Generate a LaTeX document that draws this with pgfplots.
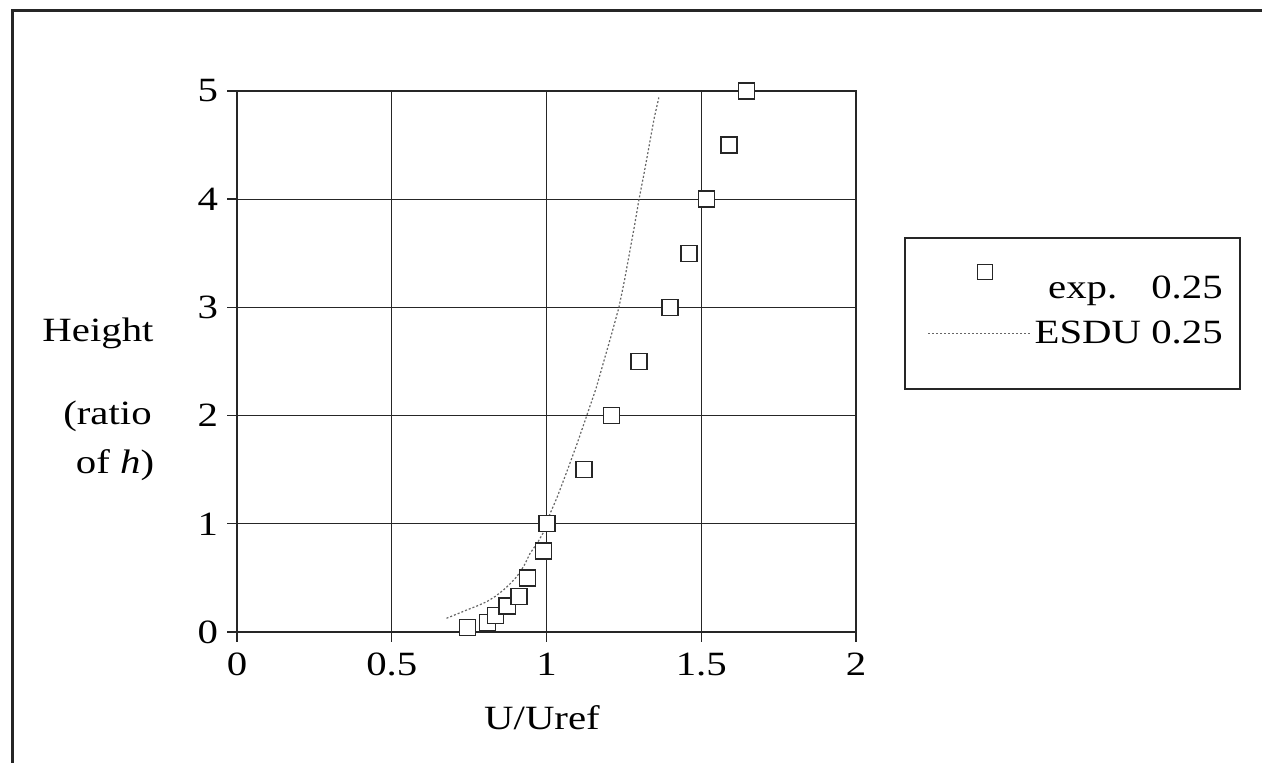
\documentclass[border=0pt]{standalone}
\usepackage{pgfplots}
\pgfplotsset{compat=1.18}
\usepackage{fontspec}
\setmainfont{Liberation Serif}[FakeStretch=1.2]
\newcommand\f{\fontsize{17}{20}\selectfont}
\begin{document}
\begin{tikzpicture}
\useasboundingbox (0,0) rectangle (631pt,381.5pt);
\fill[white] (0,0) rectangle (631pt,381.5pt);
\draw[line width=1.5pt, black!85] (6pt,-20pt) -- (6pt,376pt) -- (650pt,376pt);
\draw[line width=0.6pt, black!85] (452.5pt,262.5pt) rectangle (620pt,187pt);
\begin{axis}[
  at={(118.5pt,65.5pt)}, anchor=south west,
  scale only axis, width=309.5pt, height=270.5pt,
  xmin=0, xmax=2, ymin=0, ymax=5,
  xtick={0,0.5,1,1.5,2}, ytick={0,1,2,3,4,5},
  tick pos=left,
  grid=major,
  major grid style={black!85, line width=0.6pt},
  axis line style={black!85, line width=0.7pt},
  tick style={black!85, line width=0.7pt},
  tick align=outside, major tick length=5pt,
  ticklabel style={font=\f},
  /pgf/number format/assume math mode=true,
  xticklabel style={yshift=-2pt},
  yticklabel style={xshift=-1pt},
  clip=false,
  legend style={at={(1.105,0.5933)}, anchor=west, draw=none, fill=none, font=\f,
    row sep=6pt},
  legend cell align=right,
]
\addplot[only marks, mark=square*, mark size=4pt,
  mark options={fill=white, draw=black!85, line width=0.7pt},
  legend image code/.code={
    \path[draw=none] (0pt,0pt) rectangle (51pt,0.1pt);
    \draw[overlay, mark=square*, mark size=3.7pt, mark options={fill=white, draw=black!85, line width=0.6pt}]
      plot coordinates {(28.5pt,8pt)};
  }] coordinates {
(0.745,0.04) (0.81,0.09) (0.836,0.15) (0.873,0.24) (0.911,0.33) (0.938,0.5)
(0.991,0.75) (1.002,1.0) (1.121,1.5) (1.21,2.0) (1.299,2.5) (1.399,3.0)
(1.46,3.5) (1.516,4.0) (1.59,4.5) (1.647,5.0)
};
\addlegendentry{exp.\hspace{17pt}0.25}
\addplot[black!60, line width=0.6pt, dash pattern=on 1pt off 1pt,
  legend image code/.code={
    \draw[black!60, line width=0.6pt, dash pattern=on 1pt off 1pt] (0pt,0pt) -- (51pt,0pt);
  }] coordinates {
(0.677,0.127) (0.71,0.165) (0.742,0.203) (0.775,0.24) (0.807,0.28) (0.835,0.33)
(0.861,0.388) (0.884,0.45) (0.904,0.511) (0.927,0.61) (0.947,0.727) (0.972,0.83)
(0.99,0.92) (1.005,1.05) (1.035,1.25) (1.068,1.5) (1.10,1.75) (1.13,2.0)
(1.16,2.25) (1.185,2.5) (1.21,2.75) (1.234,3.0) (1.252,3.25) (1.268,3.5)
(1.284,3.75) (1.299,4.0) (1.316,4.25) (1.332,4.5) (1.348,4.75) (1.363,4.94)
};
\addlegendentry{ESDU 0.25}
\end{axis}
\node[font=\f] at (49pt,215pt) {Height};
\node[font=\f] at (53.75pt,173.5pt) {(ratio};
\node[font=\f] at (57.5pt,149pt) {of \textit{h})};
\node[font=\f] at (271pt,22.5pt) {U/Uref};
\end{tikzpicture}
\end{document}
